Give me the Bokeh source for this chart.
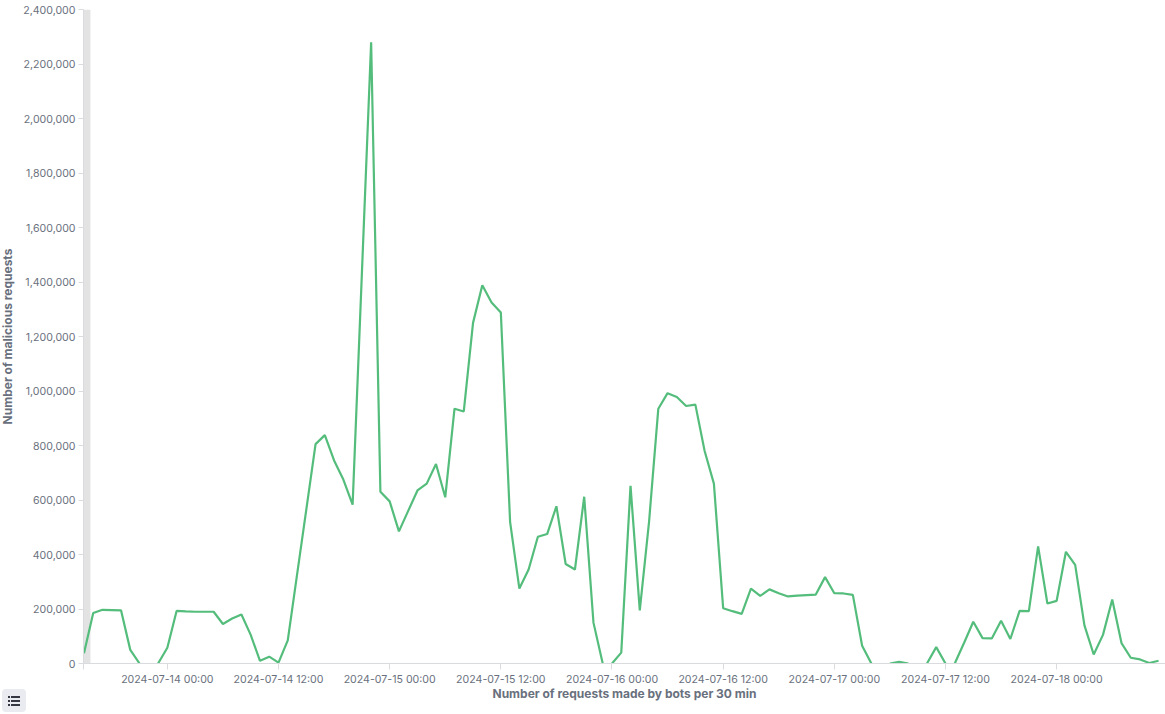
import pandas as pd
from bokeh.plotting import figure
from bokeh.layouts import column
from bokeh.embed import file_html
from bokeh.resources import INLINE
from bokeh.models import FixedTicker, BoxAnnotation, NumeralTickFormatter, Range1d, Div

start_time = "2024-07-13 15:00"
bucket_hours = 1
requests = [
    38000, 185000, 197000, 196000, 195000, 50000, 0, 0, 0, 58000,
    193000, 191000, 190000, 190000, 190000, 145000, 165000, 180000, 105000, 10000,
    25000, 3000, 85000, 325000, 565000, 805000, 838000, 745000, 675000, 583000,
    1430000, 2280000, 630000, 595000, 485000, 560000, 635000, 660000, 732000, 610000,
    935000, 925000, 1250000, 1388000, 1325000, 1288000, 520000, 275000, 345000, 465000,
    475000, 577000, 365000, 345000, 612000, 150000, 0, 0, 40000, 652000,
    195000, 520000, 935000, 992000, 978000, 945000, 950000, 780000, 660000, 203000,
    192000, 182000, 275000, 248000, 272000, 258000, 246000, 249000, 251000, 253000,
    317000, 258000, 257000, 252000, 65000, 0, 0, 0, 6000, 0,
    0, 0, 60000, 0, 0, 75000, 153000, 93000, 92000, 157000,
    90000, 193000, 192000, 430000, 220000, 230000, 410000, 362000, 140000, 33000,
    105000, 235000, 75000, 21000, 15000, 2000, 10000,
]
x_tick_labels = [
    "2024-07-14 00:00", "2024-07-14 12:00", "2024-07-15 00:00", "2024-07-15 12:00",
    "2024-07-16 00:00", "2024-07-16 12:00", "2024-07-17 00:00", "2024-07-17 12:00",
    "2024-07-18 00:00",
]
y_ticks = [0, 200000, 400000, 600000, 800000, 1000000, 1200000, 1400000,
           1600000, 1800000, 2000000, 2200000, 2400000]
x_title = "Number of requests made by bots per 30 min"
y_title = "Number of malicious requests"

HOUR = 3600000
t0 = pd.Timestamp(start_time).timestamp() * 1000
times = [t0 + i * bucket_hours * HOUR for i in range(len(requests))]
tick_ms = [pd.Timestamp(s).timestamp() * 1000 for s in x_tick_labels]

TEXT = "#69707d"
GUIDE = "#d9dbdf"
FONT = "Inter"
FRAME_B = 663
SHIFT = 3  # the axis panel needs 86px; the page is shifted left so the frame starts at 83

p = figure(width=1165 + SHIFT, height=714, output_backend="svg", toolbar_location=None,
           x_range=Range1d(t0 - 0.05 * HOUR, t0 + 116.75 * HOUR),
           y_range=Range1d(0, 2400000),
           min_border_left=83 + SHIFT, min_border_right=0, min_border_top=9, min_border_bottom=714 - FRAME_B,
           background_fill_color="white", border_fill_color="white", outline_line_color=None)
p.grid.visible = False

p.add_layout(BoxAnnotation(left=t0 - 0.05 * HOUR, right=t0 + 0.7 * HOUR,
                           fill_color="#e3e3e3", fill_alpha=1, line_color=None, level="underlay"))

# split the line where it runs along zero: the reference hides those stretches under the axis
runs_x, runs_y, cur_x, cur_y = [], [], [times[0]], [requests[0]]
for i in range(1, len(requests)):
    if requests[i] == 0 and requests[i - 1] == 0:
        runs_x.append(cur_x); runs_y.append(cur_y)
        cur_x, cur_y = [times[i]], [requests[i]]
    else:
        cur_x.append(times[i]); cur_y.append(requests[i])
runs_x.append(cur_x); runs_y.append(cur_y)
p.multi_line(runs_x, runs_y, line_color="#54bd7c", line_width=2.2)

xa = p.xaxis[0]
xa.ticker = FixedTicker(ticks=[t0] + tick_ms)
xa.major_label_overrides = {**{t0: ""}, **dict(zip(tick_ms, x_tick_labels))}
xa.major_tick_out = 6
xa.major_tick_in = 0
xa.minor_tick_line_color = None
xa.major_label_standoff = 3
xa.axis_label = x_title
xa.axis_label_standoff = -3

ya = p.yaxis[0]
ya.ticker = FixedTicker(ticks=y_ticks)
ya.formatter = NumeralTickFormatter(format="0,0")
ya.major_tick_out = 5
ya.major_tick_in = 0
ya.minor_tick_line_color = None
ya.major_label_standoff = 3
ya.axis_label = y_title
ya.axis_label_standoff = 5

for a in (xa, ya):
    a.axis_line_color = GUIDE
    a.major_tick_line_color = GUIDE
    a.major_label_text_color = TEXT
    a.major_label_text_font = FONT
    a.major_label_text_font_size = "10.6px"
    a.axis_label_text_color = TEXT
    a.axis_label_text_font = FONT
    a.axis_label_text_font_size = "12px"
    a.axis_label_text_font_style = "bold"

# legend toggle button, lower left
rows = "".join(
    '<div style="position:absolute;left:6px;top:%dpx;width:2px;height:1.5px;background:#343741"></div>'
    '<div style="position:absolute;left:9px;top:%dpx;width:9px;height:1.5px;background:#343741"></div>' % (t, t)
    for t in (7, 11, 15)
)
button = Div(text=rows, width=24, height=23, margin=0,
             styles={"position": "absolute", "left": "%dpx" % (2 + SHIFT), "top": "689px",
                     "background": "#e9ebf0", "border-radius": "4px"})

page = column(p, button, spacing=0, margin=0,
              styles={"position": "absolute", "left": "%dpx" % -SHIFT, "top": "0px"})
open("out.html", "w").write(file_html(page, INLINE))
